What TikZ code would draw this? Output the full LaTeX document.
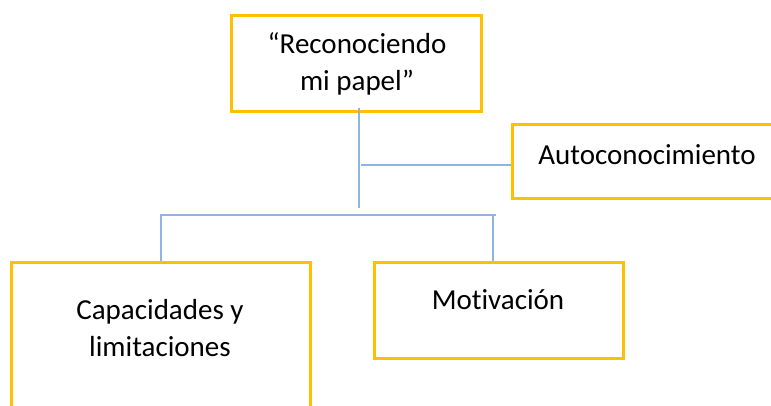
\documentclass[tikz,border=0pt]{standalone}
\usepackage{fontspec}
\setmainfont{Carlito}[Ligatures=NoCommon]
\definecolor{boxgold}{RGB}{255,192,0}
\definecolor{linkblue}{RGB}{143,180,227}
\begin{document}
\begin{tikzpicture}[x=1pt,y=-1pt,
  box/.style={draw=boxgold,line width=3pt,inner sep=0pt,fill=white},
  txt/.style={inner sep=0pt,align=center,font=\fontsize{29}{37}\selectfont},
  link/.style={draw=linkblue,line width=1.6pt}]
\useasboundingbox (0,0) rectangle (771,405);
\clip (0,0) rectangle (771,405);
% boxes
\node[box,minimum width=250pt,minimum height=96pt] (top) at (356,63) {};
\node[box,minimum width=270pt,minimum height=74pt] (auto) at (647,161) {};
\node[box,minimum width=299pt,minimum height=180pt] (cap) at (160.5,352) {};
\node[box,minimum width=249pt,minimum height=96pt] (mot) at (498.5,310) {};
% texts
\node[txt] (ttop) at (357,64) {“Reconociendo\\mi papel”};
\node[txt] (tauto) at (647,155) {Autoconocimiento};
\node[txt] (tcap) at (160,328) {Capacidades y\\limitaciones};
\node[txt] (tmot) at (498,300) {Motivación};
% connectors
\coordinate (j1) at (359,208);
\coordinate (h1) at (361,165);
\coordinate (b1) at (161,215);
\coordinate (b2) at (493,215);
\coordinate (b3) at (496,215);
\draw[link] ([yshift=5pt]top.south -| j1) -- (j1);
\draw[link] (h1) -- (h1 -| auto.west);
\draw[link] (cap.north -| b1) -- (b1) -- (b3);
\draw[link] (b2) -- (mot.north -| b2);
\end{tikzpicture}
\end{document}
